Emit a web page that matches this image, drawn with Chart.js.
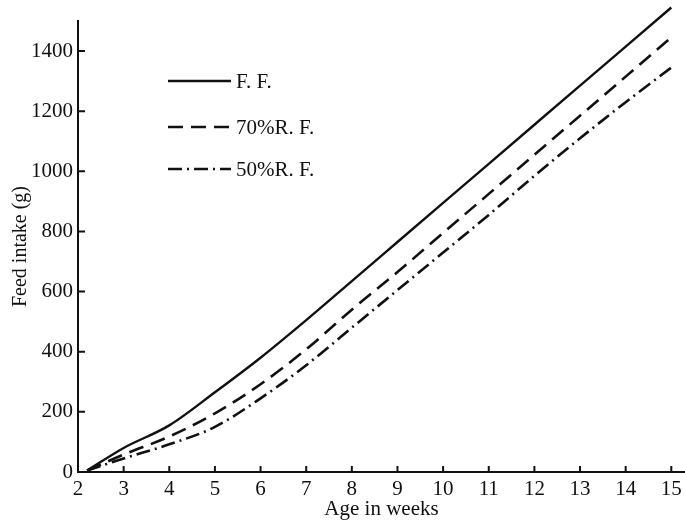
<!DOCTYPE html>
<html lang="en">
<head>
  <title>Feed intake by age</title>
  <script src="https://cdn.jsdelivr.net/npm/chart.js"></script>
  <style>
    body {
      margin: 0;
      background: #fff;
    }
    #wrap {
      width: 685px;
      height: 524px;
    }
  </style>
</head>
<body>

<div id="wrap">
  <canvas id="feedChart" width="685" height="524"></canvas>
</div>

<script>
  // weeks of age (first point is where the curves start)
  const weeks = [2.2, 3, 4, 5, 6, 7, 8, 9, 10, 11, 12, 13, 14, 15];

  // feed intake in grams
  const fullFeed = [5, 80, 155, 265, 380, 505, 635, 765, 895, 1025, 1155, 1285, 1415, 1545];
  const restricted70 = [5, 58, 118, 195, 292, 408, 540, 665, 795, 925, 1055, 1185, 1315, 1446];
  const restricted50 = [5, 45, 92, 150, 245, 355, 480, 605, 730, 855, 985, 1110, 1230, 1345];

  const seriesNames = ['F. F.', '70%R. F.', '50%R. F.'];
  const xTicks = [2, 3, 4, 5, 6, 7, 8, 9, 10, 11, 12, 13, 14, 15];
  const yTicks = [0, 200, 400, 600, 800, 1000, 1200, 1400];

  const serif = "'Liberation Serif', 'DejaVu Serif', serif";

  function toPoints(values) {
    return values.map((v, i) => ({ x: weeks[i], y: v }));
  }

  // inward tick marks + in-plot legend, like the printed figure
  const paperStyle = {
    id: 'paperStyle',
    afterDraw(chart) {
      const c = chart.ctx;
      const area = chart.chartArea;
      const xs = chart.scales.x;
      const ys = chart.scales.y;
      c.save();
      c.strokeStyle = '#111';
      c.lineWidth = 2;
      c.beginPath();
      xTicks.forEach(t => {
        if (t === xTicks[0]) return;
        const px = xs.getPixelForValue(t);
        c.moveTo(px, area.bottom);
        c.lineTo(px, area.bottom - 6);
      });
      yTicks.forEach(t => {
        if (t === 0) return;
        const py = ys.getPixelForValue(t);
        c.moveTo(area.left, py);
        c.lineTo(area.left + 7, py);
      });
      c.stroke();

      // legend
      const rows = [81, 127, 169];
      chart.data.datasets.forEach((ds, i) => {
        c.beginPath();
        c.setLineDash(ds.borderDash || []);
        c.lineWidth = ds.borderWidth;
        c.strokeStyle = ds.borderColor;
        c.moveTo(168, rows[i]);
        c.lineTo(231, rows[i]);
        c.stroke();
        c.setLineDash([]);
        c.fillStyle = '#111';
        c.font = '21px ' + serif;
        c.textBaseline = 'middle';
        c.textAlign = 'left';
        c.fillText(ds.label, 236, rows[i] + 1);
      });
      c.restore();
    }
  };

  let ctx = document.getElementById('feedChart').getContext('2d');

  new Chart(ctx, {
    type: 'line',
    data: {
      datasets: [
        {
          label: seriesNames[0],
          data: toPoints(fullFeed),
          borderColor: '#111',
          borderWidth: 2.4,
          borderDash: [],
          clip: false
        },
        {
          label: seriesNames[1],
          data: toPoints(restricted70),
          borderColor: '#111',
          borderWidth: 2.6,
          borderDash: [15, 8],
          clip: false
        },
        {
          label: seriesNames[2],
          data: toPoints(restricted50),
          borderColor: '#111',
          borderWidth: 2.6,
          borderDash: [14, 5, 2, 5],
          clip: false
        }
      ]
    },
    options: {
      responsive: false,
      animation: false,
      cubicInterpolationMode: 'monotone',
      pointRadius: 0,
      layout: {
        padding: { top: 21, right: 0, bottom: 0, left: 0 }
      },
      plugins: {
        legend: { display: false },
        tooltip: { enabled: false }
      },
      scales: {
        x: {
          type: 'linear',
          min: 2,
          max: 15.3,
          afterBuildTicks: s => { s.ticks = xTicks.map(v => ({ value: v })); },
          afterFit: s => { s.height = 52; s.paddingLeft = 0; s.paddingRight = 0; },
          grid: { display: false, drawTicks: false },
          border: { display: true, color: '#111', width: 2 },
          ticks: {
            padding: 5,
            color: '#111',
            font: { family: serif, size: 21 },
            callback: v => String(v)
          },
          title: {
            display: true,
            text: 'Age in weeks',
            color: '#111',
            padding: { top: 0, bottom: 2 },
            font: { family: serif, size: 21 }
          }
        },
        y: {
          min: 0,
          max: 1500,
          afterBuildTicks: s => { s.ticks = yTicks.map(v => ({ value: v })); },
          afterFit: s => { s.width = 78; s.paddingTop = 0; s.paddingBottom = 0; },
          grid: { display: false, drawTicks: false },
          border: { display: true, color: '#111', width: 2 },
          ticks: {
            padding: 5,
            color: '#111',
            font: { family: serif, size: 21 },
            callback: v => String(v)
          },
          title: {
            display: true,
            text: 'Feed intake (g)',
            color: '#111',
            padding: { top: 9, bottom: 0 },
            font: { family: serif, size: 20 }
          }
        }
      }
    },
    plugins: [paperStyle]
  });
</script>

</body>
</html>
